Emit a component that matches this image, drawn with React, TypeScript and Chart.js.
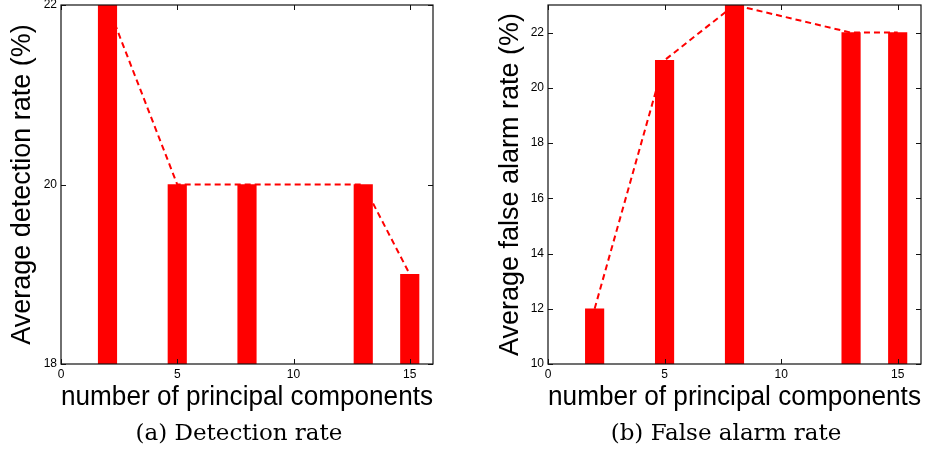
import React, { useEffect, useRef } from "react";
import { Chart, registerables } from "chart.js";

Chart.register(...registerables);

const components = [2, 5, 8, 13, 15];
const detectionRate = [22, 20, 20, 20, 19];
const falseAlarmRate = [12, 21, 23, 22, 22];
const xTickValues = [0, 5, 10, 15];
const detectionTicks = [18, 20, 22];
const falseAlarmTicks = [10, 12, 14, 16, 18, 20, 22];

const RED = "#ff0000";
const SANS = "'Liberation Sans', Arial, sans-serif";

const frameTicks = {
  id: "frameTicks",
  afterDatasetsDraw(chart: any) {
    const { ctx, chartArea: a, scales } = chart;
    const xs = scales.x;
    const ys = scales.y;
    ctx.save();
    ctx.strokeStyle = "#111";
    ctx.lineWidth = 1.2;
    ctx.strokeRect(a.left, a.top, a.right - a.left, a.bottom - a.top);
    const L = 5;
    ctx.lineWidth = 1;
    ctx.beginPath();
    xs.ticks.forEach((t: any) => {
      const px = Math.round(xs.getPixelForValue(t.value)) + 0.5;
      ctx.moveTo(px, a.bottom);
      ctx.lineTo(px, a.bottom - L);
      ctx.moveTo(px, a.top);
      ctx.lineTo(px, a.top + L);
    });
    ys.ticks.forEach((t: any) => {
      const py = Math.round(ys.getPixelForValue(t.value)) + 0.5;
      ctx.moveTo(a.left, py);
      ctx.lineTo(a.left + L, py);
      ctx.moveTo(a.right, py);
      ctx.lineTo(a.right - L, py);
    });
    ctx.stroke();
    ctx.restore();
  },
};

type PanelProps = {
  values: number[];
  yMin: number;
  yMax: number;
  yTicks: number[];
  yTitle: string;
  yWidth: number;
  yTitlePad: number;
  rightPad: number;
  left: number;
  width: number;
  caption: string;
  captionCenter: number;
};

function Panel(p: PanelProps) {
  const ref = useRef<HTMLCanvasElement>(null);
  useEffect(() => {
    if (!ref.current) return;
    const chart = new Chart(ref.current, {
      type: "bar",
      data: {
        datasets: [
          {
            type: "bar",
            data: components.map((c, i) => ({ x: c, y: p.values[i] })),
            backgroundColor: RED,
            borderWidth: 0,
            barThickness: 18.5,
            grouped: false,
          } as any,
          {
            type: "line",
            data: components.map((c, i) => ({ x: c, y: p.values[i] })),
            borderColor: RED,
            borderWidth: 2,
            borderDash: [6, 4],
            pointRadius: 0,
            fill: false,
            tension: 0,
          } as any,
        ],
      },
      options: {
        animation: false,
        responsive: false,
        maintainAspectRatio: false,
        layout: { padding: { top: 5, right: p.rightPad, left: 0, bottom: 0 } },
        plugins: { legend: { display: false }, tooltip: { enabled: false } },
        scales: {
          x: {
            type: "linear",
            min: 0,
            max: 16,
            offset: false,
            afterBuildTicks: (s: any) => {
              s.ticks = xTickValues.map((v) => ({ value: v }));
            },
            afterFit: (s: any) => {
              s.height = 86;
              s.paddingLeft = 0;
              s.paddingRight = 0;
            },
            grid: { display: false, drawTicks: false },
            border: { display: false },
            ticks: {
              font: { family: SANS, size: 12 },
              color: "#000",
              padding: 3,
              maxRotation: 0,
              autoSkip: false,
            },
            title: {
              display: true,
              text: "number of principal components",
              font: { family: SANS, size: 27 },
              color: "#000",
              padding: { top: 0, bottom: 36 },
            },
          },
          y: {
            type: "linear",
            min: p.yMin,
            max: p.yMax,
            afterBuildTicks: (s: any) => {
              s.ticks = p.yTicks.map((v) => ({ value: v }));
            },
            afterFit: (s: any) => {
              s.width = p.yWidth;
              s.paddingTop = 0;
              s.paddingBottom = 0;
            },
            grid: { display: false, drawTicks: false },
            border: { display: false },
            ticks: {
              font: { family: SANS, size: 12 },
              color: "#000",
              padding: 4,
              autoSkip: false,
            },
            title: {
              display: true,
              text: p.yTitle,
              font: { family: SANS, size: 27 },
              color: "#000",
              padding: { top: p.yTitlePad, bottom: 0 },
            },
          },
        },
      } as any,
      plugins: [frameTicks],
    });
    return () => chart.destroy();
  }, []);
  return (
    <>
      <canvas
        ref={ref}
        width={p.width}
        height={450}
        style={{ position: "absolute", left: p.left, top: 0, width: p.width, height: 450 }}
      />
      <div
        style={{
          position: "absolute",
          left: p.captionCenter - 150,
          width: 300,
          top: 419,
          textAlign: "center",
          fontFamily: "'DejaVu Serif', serif",
          fontSize: 23,
          lineHeight: "27px",
          color: "#000",
          whiteSpace: "nowrap",
        }}
      >
        {p.caption}
      </div>
    </>
  );
}

export default function App() {
  return (
    <div
      style={{
        position: "fixed",
        left: 0,
        top: 0,
        width: 930,
        height: 450,
        background: "#fff",
        overflow: "hidden",
      }}
    >
      <Panel
        values={detectionRate}
        yMin={18}
        yMax={22}
        yTicks={detectionTicks}
        yTitle="Average detection rate (%)"
        yWidth={61}
        yTitlePad={6}
        rightPad={37}
        left={0}
        width={470}
        caption="(a) Detection rate"
        captionCenter={239}
      />
      <Panel
        values={falseAlarmRate}
        yMin={10}
        yMax={23}
        yTicks={falseAlarmTicks}
        yTitle="Average false alarm rate (%)"
        yWidth={78}
        yTitlePad={24}
        rightPad={9}
        left={470}
        width={460}
        caption="(b) False alarm rate"
        captionCenter={726}
      />
    </div>
  );
}
